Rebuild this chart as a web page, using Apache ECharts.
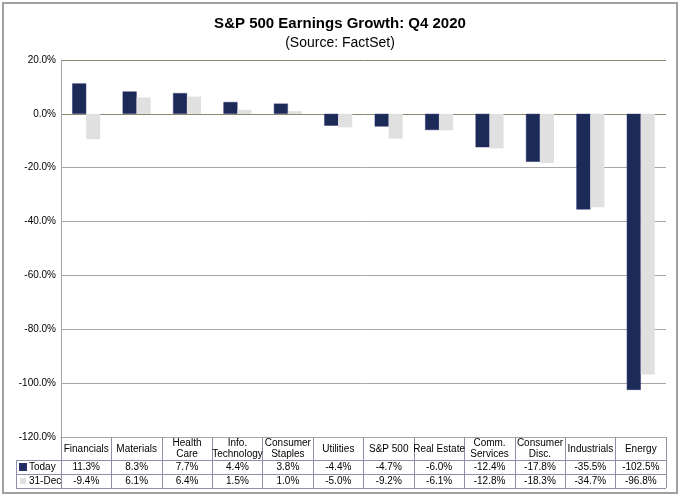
<!DOCTYPE html>
<html>
<head>
<meta charset="utf-8">
<script src="https://cdn.jsdelivr.net/npm/echarts@6/dist/echarts.min.js"></script>
<style>
html,body{margin:0;padding:0;background:#fff;}
#c{width:680px;height:496px;}
</style>
</head>
<body>
<div id="c"></div>
<script>
var categories = ['Financials', 'Materials', 'Health\nCare', 'Info.\nTechnology', 'Consumer\nStaples', 'Utilities', 'S&P 500', 'Real Estate', 'Comm.\nServices', 'Consumer\nDisc.', 'Industrials', 'Energy'];
var today = [11.3, 8.3, 7.7, 4.4, 3.8, -4.4, -4.7, -6.0, -12.4, -17.8, -35.5, -102.5];
var dec31 = [-9.4, 6.1, 6.4, 1.5, 1.0, -5.0, -9.2, -6.1, -12.8, -18.3, -34.7, -96.8];
var seriesNames = ['Today', '31-Dec'];
var yTicks = {min: -120, max: 20, interval: 20};

var FONT = 'Arial, "Liberation Sans", sans-serif';
var TABLE = '#8f8fa8';
var chart = echarts.init(document.getElementById('c'), null, {renderer: 'canvas'});

function pct(v){ return v.toFixed(1) + '%'; }

var gridLeft = 61, gridRight = 14, gridTop = 60, gridBottom = 59;

var option = {
  backgroundColor: '#fff',
  animation: false,
  textStyle: {fontFamily: FONT},
  title: {
    text: 'S&P 500 Earnings Growth: Q4 2020',
    subtext: '(Source: FactSet)',
    left: 'center',
    top: 11,
    itemGap: 5,
    textStyle: {fontFamily: FONT, fontSize: 15, fontWeight: 'bold', color: '#000'},
    subtextStyle: {fontFamily: FONT, fontSize: 14, color: '#000'}
  },
  legend: {
    orient: 'vertical',
    left: 19,
    top: 461,
    padding: 0,
    itemWidth: 6,
    itemHeight: 6,
    itemGap: 2,
    icon: 'rect',
    textStyle: {fontFamily: FONT, fontSize: 10, color: '#000', lineHeight: 12, padding: [0,0,0,-2]},
    data: seriesNames
  },
  grid: {left: gridLeft, right: gridRight, top: gridTop, bottom: gridBottom},
  xAxis: [
    {
      type: 'category', data: categories, position: 'bottom',
      axisLine: {show: true, onZero: false, lineStyle: {color: '#a6a6a6', width: 1}},
      axisTick: {show: true, length: 51, lineStyle: {color: TABLE}},
      axisLabel: {interval: 0, margin: 12, verticalAlign: 'middle', fontSize: 10, lineHeight: 11, color: '#000', fontFamily: FONT}
    },
    {
      type: 'category', data: categories, position: 'bottom', offset: 23,
      axisLine: {show: false, onZero: false}, axisTick: {show: false},
      axisLabel: {interval: 0, margin: 7, verticalAlign: 'middle', fontSize: 10, color: '#000', fontFamily: FONT,
        formatter: function(v, i){ return pct(today[i]); }}
    },
    {
      type: 'category', data: categories, position: 'bottom', offset: 37,
      axisLine: {show: false, onZero: false}, axisTick: {show: false},
      axisLabel: {interval: 0, margin: 7, verticalAlign: 'middle', fontSize: 10, color: '#000', fontFamily: FONT,
        formatter: function(v, i){ return pct(dec31[i]); }}
    }
  ],
  yAxis: {
    type: 'value', min: yTicks.min, max: yTicks.max, interval: yTicks.interval,
    axisLine: {show: true, lineStyle: {color: '#a6a6a6', width: 1}},
    axisTick: {show: false},
    axisLabel: {formatter: function(v){ return pct(v); }, fontSize: 10, color: '#000', margin: 5, fontFamily: FONT},
    splitLine: {show: true, lineStyle: {color: ['#a6a6a6','#a6a6a6','#a6a6a6','#a6a6a6','#a6a6a6','#a6a6a6','#8a8a6e','#8a8a6e']}}
  },
  series: [
    {
      name: seriesNames[0], type: 'bar', data: today, xAxisIndex: 0,
      barWidth: 14, barGap: '0%',
      itemStyle: {color: '#1b2a57', borderColor: '#2b2f6e', borderWidth: 0.5}
    },
    {
      name: seriesNames[1], type: 'bar', data: dec31, xAxisIndex: 0,
      barWidth: 14, barGap: '0%',
      itemStyle: {color: '#e0e0e0'}
    }
  ]
};
chart.setOption(option);

// table borders
var W = 680, H = 496;
var x0 = 16, x1 = W - gridRight;
var yb = H - gridBottom;
var rows = [yb + 23, yb + 37, yb + 51];
var g = [];
rows.forEach(function(y){
  g.push({type: 'line', shape: {x1: x0, y1: y + 0.5, x2: x1, y2: y + 0.5}, style: {stroke: TABLE, lineWidth: 1}});
});
g.push({type: 'line', shape: {x1: x0 + 0.5, y1: rows[0], x2: x0 + 0.5, y2: rows[2]}, style: {stroke: TABLE, lineWidth: 1}});
// outer border
g.push({type: 'rect', shape: {x: 3, y: 3, width: 674, height: 490}, style: {fill: null, stroke: '#a0a0a0', lineWidth: 2}});
chart.setOption({graphic: g});
</script>
</body>
</html>
